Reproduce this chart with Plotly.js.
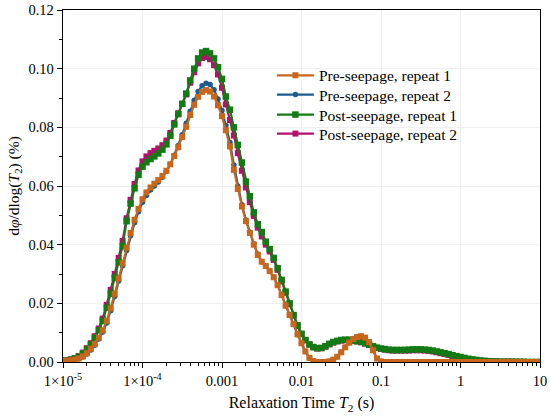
<!DOCTYPE html>
<html>
<head>
<meta charset="utf-8">
<script src="https://cdn.plot.ly/plotly-3.0.1.min.js"></script>
<style>html,body{margin:0;padding:0;background:#fff;}#chart{width:550px;height:418px;}</style>
</head>
<body>
<div id="chart"></div>
<script>
// Relaxation time T2 (s)
const T2 = [
  1e-5,1.12e-5,1.26e-5,1.41e-5,1.58e-5,1.78e-5,2e-5,2.24e-5,2.51e-5,2.82e-5,3.16e-5,3.55e-5,3.98e-5,4.47e-5,5.01e-5,5.62e-5,6.31e-5,7.08e-5,7.94e-5,8.91e-5,
  1e-4,1.12e-4,1.26e-4,1.41e-4,1.58e-4,1.78e-4,2e-4,2.24e-4,2.51e-4,2.82e-4,3.16e-4,3.55e-4,3.98e-4,4.47e-4,5.01e-4,5.62e-4,6.31e-4,7.08e-4,7.94e-4,8.91e-4,
  1e-3,1.12e-3,1.26e-3,1.41e-3,1.58e-3,1.78e-3,2e-3,2.24e-3,2.51e-3,2.82e-3,3.16e-3,3.55e-3,3.98e-3,4.47e-3,5.01e-3,5.62e-3,6.31e-3,7.08e-3,7.94e-3,8.91e-3,
  1e-2,1.12e-2,1.26e-2,1.41e-2,1.58e-2,1.78e-2,2e-2,2.24e-2,2.51e-2,2.82e-2,3.16e-2,3.55e-2,3.98e-2,4.47e-2,5.01e-2,5.62e-2,6.31e-2,7.08e-2,7.94e-2,8.91e-2,
  0.1,0.112,0.126,0.141,0.158,0.178,0.2,0.224,0.251,0.282,0.316,0.355,0.398,0.447,0.501,0.562,0.631,0.708,0.794,0.891,
  1,1.12,1.26,1.41,1.58,1.78,2,2.24,2.51,2.82,3.16,3.55,3.98,4.47,5.01,5.62,6.31,7.08,7.94,8.91,
  10
];

const pre1 = [
  0.0004,0.0005,0.0006,0.0008,0.0012,0.0019,0.0030,0.0045,0.0061,0.0083,
  0.0108,0.0140,0.0183,0.0232,0.0285,0.0337,0.0390,0.0440,0.0485,0.0522,
  0.0555,0.0578,0.0595,0.0608,0.0620,0.0634,0.0652,0.0674,0.0702,0.0732,
  0.0767,0.0802,0.0842,0.0877,0.0904,0.0921,0.0927,0.0922,0.0905,0.0875,
  0.0838,0.0790,0.0735,0.0655,0.0590,0.0530,0.0480,0.0440,0.0400,0.0365,
  0.0342,0.0327,0.0310,0.0289,0.0262,0.0228,0.0192,0.0160,0.0129,0.0094,
  0.0064,0.0036,0.0014,0.0003,0.0000,0.0000,0.0000,0.0002,0.0008,0.0018,
  0.0033,0.0050,0.0066,0.0078,0.0085,0.0088,0.0083,0.0068,0.0040,0.0012,
  0.0002,0,0,0,0,0,0,0,0,0,
  0,0,0,0,0,0,0,0,0,0,
  0,0,0,0,0,0,0,0,0,0,
  0,0,0,0,0,0,0,0,0,0,
  0
];

const pre2 = [
  0.0004,0.0005,0.0006,0.0008,0.0011,0.0017,0.0027,0.0041,0.0057,0.0078,
  0.0102,0.0133,0.0175,0.0223,0.0276,0.0328,0.0380,0.0430,0.0475,0.0512,
  0.0545,0.0568,0.0586,0.0600,0.0614,0.0630,0.0650,0.0674,0.0705,0.0738,
  0.0775,0.0814,0.0855,0.0892,0.0922,0.0942,0.0950,0.0946,0.0928,0.0897,
  0.0857,0.0806,0.0748,0.0672,0.0600,0.0536,0.0484,0.0442,0.0403,0.0368,
  0.0342,0.0327,0.0310,0.0289,0.0262,0.0228,0.0192,0.0160,0.0129,0.0094,
  0.0064,0.0036,0.0014,0.0003,0.0000,0.0000,0.0000,0.0002,0.0008,0.0018,
  0.0033,0.0050,0.0066,0.0078,0.0085,0.0088,0.0083,0.0068,0.0040,0.0012,
  0.0002,0,0,0,0,0,0,0,0,0,
  0,0,0,0,0,0,0,0,0,0,
  0,0,0,0,0,0,0,0,0,0,
  0,0,0,0,0,0,0,0,0,0,
  0
];

const post1 = [
  0.0005,0.0006,0.0008,0.0012,0.0018,0.0030,0.0044,0.0060,0.0083,0.0108,
  0.0140,0.0185,0.0233,0.0287,0.0340,0.0395,0.0480,0.0540,0.0592,0.0638,
  0.0666,0.0681,0.0692,0.0701,0.0711,0.0724,0.0742,0.0771,0.0810,0.0845,
  0.0880,0.0915,0.0960,0.1000,0.1035,0.1055,0.1060,0.1052,0.1035,0.1005,
  0.0965,0.0905,0.0860,0.0800,0.0740,0.0680,0.0615,0.0565,0.0510,0.0470,
  0.0443,0.0410,0.0385,0.0355,0.0320,0.0280,0.0240,0.0200,0.0160,0.0125,
  0.0096,0.0075,0.0060,0.0051,0.0047,0.0048,0.0054,0.0062,0.0068,0.0072,
  0.0075,0.0076,0.0076,0.0074,0.0071,0.0069,0.0064,0.0059,0.0054,0.0049,
  0.0046,0.0044,0.0042,0.0041,0.0041,0.0041,0.0041,0.0042,0.0043,0.0043,
  0.0043,0.0042,0.0041,0.0039,0.0036,0.0033,0.0030,0.0027,0.0023,0.0020,
  0.0017,0.0014,0.0011,0.0009,0.0007,0.0005,0.0004,0.0003,0.0002,0.0002,
  0.0001,0.0001,0.0001,0.0001,0.0001,0.0001,0.0001,0.0000,0.0000,0.0000,
  0.0000
];

const post2 = [
  0.0005,0.0006,0.0009,0.0013,0.0020,0.0032,0.0047,0.0064,0.0088,0.0114,
  0.0148,0.0195,0.0246,0.0300,0.0355,0.0413,0.0490,0.0553,0.0607,0.0653,
  0.0684,0.0701,0.0712,0.0720,0.0728,0.0739,0.0755,0.0781,0.0815,0.0848,
  0.0880,0.0912,0.0952,0.0988,0.1018,0.1036,0.1040,0.1032,0.1012,0.0980,
  0.0935,0.0878,0.0825,0.0772,0.0712,0.0652,0.0595,0.0545,0.0498,0.0458,
  0.0428,0.0400,0.0377,0.0348,0.0314,0.0275,0.0236,0.0197,0.0158,0.0123,
  0.0095,0.0074,0.0059,0.0050,0.0046,0.0047,0.0052,0.0060,0.0066,0.0070,
  0.0073,0.0074,0.0074,0.0072,0.0070,0.0067,0.0063,0.0058,0.0053,0.0048,
  0.0045,0.0042,0.0040,0.0039,0.0039,0.0039,0.0039,0.0039,0.0040,0.0040,
  0.0040,0.0039,0.0038,0.0036,0.0033,0.0030,0.0027,0.0024,0.0020,0.0017,
  0.0014,0.0011,0.0009,0.0007,0.0005,0.0004,0.0003,0.0002,0.0002,0.0001,
  0.0001,0.0001,0.0001,0.0001,0,0,0,0,0,0,
  0
];

const seriesNames = ['Pre-seepage, repeat 1','Pre-seepage, repeat 2','Post-seepage, repeat 1','Post-seepage, repeat 2'];
const xTickVals = [1e-5,1e-4,1e-3,1e-2,0.1,1,10];
const xTickText = ['1×10<sup>-5</sup>','1×10<sup>-4</sup>','0.001','0.01','0.1','1','10'];

const minorVals = [];
for (let e = -5; e < 1; e++) for (let m = 2; m <= 9; m++) minorVals.push(m * Math.pow(10, e));

const FONT = 'Liberation Serif, Times New Roman, serif';

function tr(y, name, color, symbol, size, legendId) {
  return {
    x: T2, y: y, name: name, type: 'scatter', mode: 'lines+markers',
    legend: legendId,
    line: {color: color, width: 2.2},
    marker: {color: color, symbol: symbol, size: size, line: {width: 0}}
  };
}

// drawn in reverse order so pre-seepage 1 sits on top
const data = [
  tr(post2, seriesNames[3], '#B0126E', 'square', 6, 'legend4'),
  tr(post1, seriesNames[2], '#137A14', 'square', 6.5, 'legend3'),
  tr(pre2, seriesNames[1], '#1D5C8E', 'circle', 5.5, 'legend2'),
  tr(pre1, seriesNames[0], '#C8661C', 'square', 6, 'legend')
];

function leg(yPx) {
  return {
    x: 0.438, y: (362 - yPx) / 352, xanchor: 'left', yanchor: 'middle',
    bgcolor: 'rgba(0,0,0,0)', itemwidth: 37,
    font: {family: FONT, size: 15.5, color: '#000'}
  };
}

const layout = {
  width: 550, height: 418,
  margin: {l: 63, r: 10, t: 10, b: 56},
  paper_bgcolor: '#fff', plot_bgcolor: '#fff',
  font: {family: FONT, size: 14.5, color: '#000'},
  showlegend: true,
  legend: leg(75.7),
  legend2: leg(95),
  legend3: leg(115),
  legend4: leg(134),
  xaxis: {
    type: 'log', range: [-5, 1],
    tickmode: 'array', tickvals: xTickVals, ticktext: xTickText,
    ticks: 'outside', ticklen: 5, tickwidth: 1, tickcolor: '#000',
    showline: true, linecolor: '#000', linewidth: 1.3, mirror: true,
    showgrid: true, gridcolor: '#efefef', gridwidth: 1, zeroline: false,
    tickfont: {family: FONT, size: 14.5, color: '#000'},
    minor: {tickmode: 'array', tickvals: minorVals, ticks: 'outside', ticklen: 3, tickcolor: '#000', showgrid: false},
    title: {text: 'Relaxation Time <i>T</i><sub>2</sub> (s)', font: {family: FONT, size: 16, color: '#000'}, standoff: 9}
  },
  yaxis: {
    range: [0, 0.12], tickmode: 'linear', tick0: 0, dtick: 0.02, tickformat: '.2f',
    ticks: 'outside', ticklen: 5, tickwidth: 1, tickcolor: '#000',
    showline: true, linecolor: '#000', linewidth: 1.3, mirror: true,
    showgrid: true, gridcolor: '#efefef', gridwidth: 1, zeroline: false,
    tickfont: {family: FONT, size: 14.5, color: '#000'},
    minor: {dtick: 0.01, ticks: 'outside', ticklen: 3, tickcolor: '#000', showgrid: false},
    title: {text: 'd<i>φ</i>/dlog(<i>T</i><sub>2</sub>) (%)', font: {family: FONT, size: 15.5, color: '#000'}, standoff: 5}
  }
};

Plotly.newPlot('chart', data, layout, {displayModeBar: false, staticPlot: true});
</script>
</body>
</html>
